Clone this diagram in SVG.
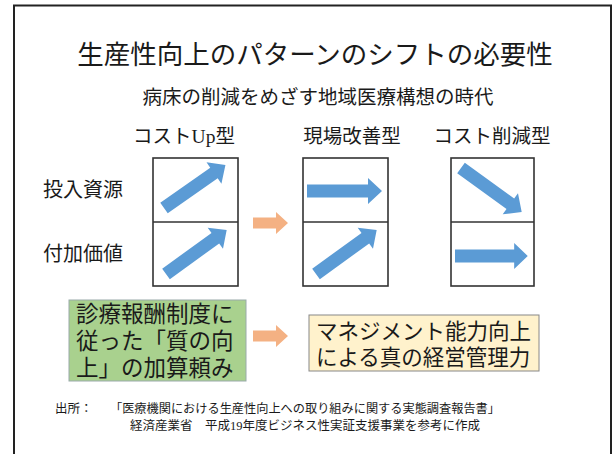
<svg xmlns="http://www.w3.org/2000/svg" xmlns:xlink="http://www.w3.org/1999/xlink" width="613" height="454" viewBox="0 0 613 454">
<style>
.t{font-family:"Liberation Serif","Noto Sans CJK JP",serif;fill:#1a1a1a}
.box{fill:#fff;stroke:#333;stroke-width:1.6}
.blue{fill:#5b9bd5}
.orange{fill:#f4b183}
</style>
<defs>
<path id="ba" d="M0,-6.5 H61 V-13 L75,0 L61,13 V6.5 H0 Z"/>
<path id="oa" d="M0,-5.5 H23 V-11 L35,0 L23,11 V5.5 H0 Z"/>
</defs>
<rect x="14" y="5.5" width="597" height="470" fill="#fff" stroke="#222" stroke-width="2"/>
<g id="title">
<text class="t" x="315" y="64" font-size="26.5" text-anchor="middle">生産性向上のパターンのシフトの必要性</text>
<text class="t" x="318" y="104" font-size="19.5" text-anchor="middle">病床の削減をめざす地域医療構想の時代</text>
</g>
<g id="headers">
<text class="t" x="184" y="143" font-size="19.5" text-anchor="middle">コストUp型</text>
<text class="t" x="352" y="143" font-size="19.5" text-anchor="middle">現場改善型</text>
<text class="t" x="492" y="143" font-size="19.5" text-anchor="middle">コスト削減型</text>
</g>
<g id="rows">
<text class="t" x="43" y="197" font-size="20">投入資源</text>
<text class="t" x="43" y="261" font-size="20">付加価値</text>
</g>
<g id="costup">
<rect class="box" x="153" y="158" width="85" height="128"/>
<line x1="153" y1="222" x2="238" y2="222" stroke="#333" stroke-width="1.6"/>
<use href="#ba" class="blue" transform="translate(164,208) rotate(-35)"/>
<use href="#ba" class="blue" transform="translate(166,274) rotate(-36)"/>
</g>
<g id="genba">
<rect class="box" x="303" y="158" width="85" height="128"/>
<line x1="303" y1="222" x2="388" y2="222" stroke="#333" stroke-width="1.6"/>
<use href="#ba" class="blue" transform="translate(307,191)"/>
<use href="#ba" class="blue" transform="translate(316,274) rotate(-36)"/>
</g>
<g id="costcut">
<rect class="box" x="451" y="158" width="83" height="128"/>
<line x1="451" y1="222" x2="534" y2="222" stroke="#333" stroke-width="1.6"/>
<use href="#ba" class="blue" transform="translate(461,168) rotate(36)"/>
<use href="#ba" class="blue" transform="translate(455,256) scale(0.97,1)"/>
</g>
<g id="green">
<rect x="69" y="300" width="177" height="81" fill="#a9d18e" stroke="#9aa" stroke-width="1"/>
<text class="t" x="76" y="322" font-size="22.5">診療報酬制度に</text>
<text class="t" x="76" y="349" font-size="22.5">従った「質の向</text>
<text class="t" x="76" y="376" font-size="22.5">上」の加算頼み</text>
</g>
<g id="yellow">
<rect x="309" y="315" width="230" height="56" fill="#fff2cc" stroke="#888" stroke-width="1"/>
<text class="t" x="316" y="339" font-size="21.5">マネジメント能力向上</text>
<text class="t" x="316" y="365" font-size="21.5">による真の経営管理力</text>
</g>
<g id="connectors">
<use href="#oa" class="orange" transform="translate(253,223)"/>
<use href="#oa" class="orange" transform="translate(253,336)"/>
</g>
<g id="source">
<text class="t" x="55" y="413" font-size="12.5">出所：</text>
<text class="t" x="110" y="413" font-size="12.2">「医療機関における生産性向上への取り組みに関する実態調査報告書」</text>
<text class="t" x="130" y="430" font-size="12.5">経済産業省　平成19年度ビジネス性実証支援事業を参考に作成</text>
</g>
</svg>
